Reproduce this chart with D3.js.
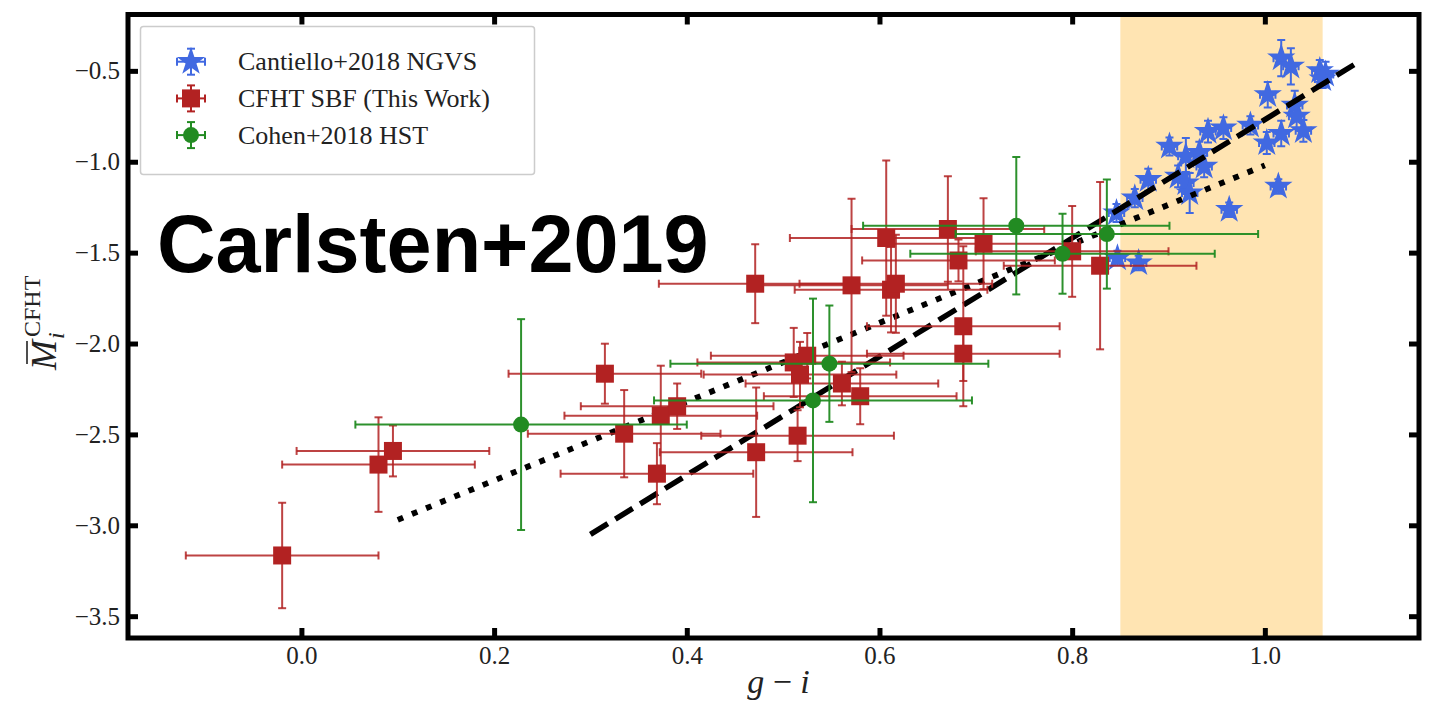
<!DOCTYPE html>
<html>
<head>
<meta charset="utf-8">
<script src="https://cdn.jsdelivr.net/npm/d3@7"></script>
<style>
  body { margin: 0; background: #fff; }
  svg { display: block; }
  .tick text { font-family: "Liberation Serif", "Times New Roman", serif; font-size: 25px; fill: #222; }
</style>
</head>
<body>
<div id="chart"></div>
<script>
// Data: [g-i, M, xerr, yerr]
const ngvs = [
    [1.017, -0.430, 0.008, 0.10],
    [1.027, -0.475, 0.008, 0.10],
    [1.057, -0.500, 0.008, 0.06],
    [1.063, -0.520, 0.008, 0.07],
    [1.060, -0.545, 0.008, 0.05],
    [1.003, -0.632, 0.008, 0.07],
    [1.031, -0.690, 0.008, 0.08],
    [1.033, -0.750, 0.008, 0.07],
    [1.040, -0.830, 0.008, 0.06],
    [1.017, -0.845, 0.008, 0.07],
    [1.002, -0.897, 0.008, 0.06],
    [0.985, -0.800, 0.008, 0.05],
    [0.957, -0.815, 0.008, 0.06],
    [0.941, -0.834, 0.008, 0.06],
    [0.901, -0.916, 0.008, 0.05],
    [0.918, -0.970, 0.008, 0.10],
    [0.932, -0.950, 0.008, 0.06],
    [0.937, -1.026, 0.008, 0.06],
    [0.910, -1.081, 0.008, 0.06],
    [0.918, -1.117, 0.008, 0.06],
    [0.922, -1.172, 0.008, 0.11],
    [0.879, -1.099, 0.008, 0.06],
    [0.865, -1.200, 0.008, 0.05],
    [0.846, -1.282, 0.008, 0.05],
    [1.014, -1.136, 0.008, 0.04],
    [0.963, -1.264, 0.008, 0.04],
    [0.847, -1.530, 0.008, 0.04],
    [0.869, -1.557, 0.008, 0.04]
];

const cfht = [
    [-0.020, -3.166, 0.10, 0.29],
    [0.080, -2.666, 0.10, 0.26],
    [0.095, -2.591, 0.10, 0.14],
    [0.315, -2.166, 0.10, 0.165],
    [0.335, -2.496, 0.10, 0.24],
    [0.373, -2.397, 0.10, 0.275],
    [0.369, -2.716, 0.10, 0.168],
    [0.390, -2.345, 0.10, 0.125],
    [0.471, -1.671, 0.10, 0.217],
    [0.472, -2.598, 0.10, 0.356],
    [0.511, -2.104, 0.10, 0.19],
    [0.525, -2.067, 0.10, 0.125],
    [0.5175, -2.171, 0.10, 0.18],
    [0.515, -2.507, 0.10, 0.14],
    [0.561, -2.220, 0.10, 0.12],
    [0.580, -2.290, 0.10, 0.154],
    [0.571, -1.680, 0.10, 0.477],
    [0.607, -1.420, 0.10, 0.427],
    [0.612, -1.704, 0.10, 0.235],
    [0.617, -1.671, 0.10, 0.27],
    [0.671, -1.370, 0.10, 0.29],
    [0.682, -1.543, 0.10, 0.115],
    [0.708, -1.451, 0.10, 0.25],
    [0.687, -1.905, 0.10, 0.44],
    [0.687, -2.056, 0.10, 0.15],
    [0.800, -1.493, 0.10, 0.25],
    [0.829, -1.572, 0.10, 0.46]
];

const cohen = [
    [0.228, -2.446, 0.172, 0.58],
    [0.531, -2.313, 0.165, 0.56],
    [0.548, -2.111, 0.165, 0.32],
    [0.742, -1.352, 0.159, 0.378],
    [0.790, -1.506, 0.158, 0.22],
    [0.836, -1.398, 0.157, 0.30]
];

const dashedFit = [[0.3, -3.05], [1.1, -0.442]];
const dottedFit = [[0.1, -2.97], [1.0, -1.02]];
const bandRange = [0.85, 1.06];

const xTicks = [0, 0.2, 0.4, 0.6, 0.8, 1.0];
const yTicks = [-3.5, -3.0, -2.5, -2.0, -1.5, -1.0, -0.5];

const legendLabels = ["Cantiello+2018 NGVS", "CFHT SBF (This Work)", "Cohen+2018 HST"];

const width = 1436, height = 701;
const plotLeft = 128, plotRight = 1419, plotTop = 14.5, plotBottom = 638;

const serif = '"Liberation Serif", "Times New Roman", serif';
const blue = "#4169e1", red = "#b22222", green = "#228b22";

const x = d3.scaleLinear().domain([-0.18, 1.16]).range([plotLeft, plotRight]);
const y = d3.scaleLinear().domain([-3.62, -0.19]).range([plotBottom, plotTop]);

const svg = d3.select("#chart").append("svg")
    .attr("width", width)
    .attr("height", height);

svg.append("defs").append("clipPath").attr("id", "plot")
    .append("rect")
    .attr("x", plotLeft).attr("y", plotTop)
    .attr("width", plotRight - plotLeft).attr("height", plotBottom - plotTop);

const plot = svg.append("g").attr("clip-path", "url(#plot)");

// shaded colour range
plot.append("rect")
    .attr("x", x(bandRange[0]))
    .attr("width", x(bandRange[1]) - x(bandRange[0]))
    .attr("y", plotTop)
    .attr("height", plotBottom - plotTop)
    .attr("fill", "#ffa500")
    .attr("fill-opacity", 0.3);

const starPath = d3.symbol().type(d3.symbolStar).size(250)();
const squarePath = d3.symbol().type(d3.symbolSquare).size(18 * 18)();
const circlePath = d3.symbol().type(d3.symbolCircle).size(Math.PI * 8 * 8)();

function errorBars(g, rows, color, cap, lw, opacity) {
    const bars = g.append("g")
        .attr("stroke", color)
        .attr("stroke-width", lw)
        .attr("stroke-opacity", opacity)
        .attr("fill", "none");
    rows.forEach(d => {
        const cx = x(d[0]), cy = y(d[1]);
        const x0 = x(d[0] - d[2]), x1 = x(d[0] + d[2]);
        const y0 = y(d[1] - d[3]), y1 = y(d[1] + d[3]);
        bars.append("line").attr("x1", x0).attr("x2", x1).attr("y1", cy).attr("y2", cy);
        bars.append("line").attr("x1", cx).attr("x2", cx).attr("y1", y0).attr("y2", y1);
        [x0, x1].forEach(v => bars.append("line")
            .attr("x1", v).attr("x2", v).attr("y1", cy - cap).attr("y2", cy + cap));
        [y0, y1].forEach(v => bars.append("line")
            .attr("x1", cx - cap).attr("x2", cx + cap).attr("y1", v).attr("y2", v));
    });
}

function markers(g, rows, path, color) {
    g.append("g").selectAll("path")
        .data(rows)
        .join("path")
        .attr("d", path)
        .attr("transform", d => `translate(${x(d[0])},${y(d[1])})`)
        .attr("fill", color);
}

// NGVS stars sit below the fit lines
errorBars(plot, ngvs, blue, 4, 2, 1);
markers(plot, ngvs, starPath, blue);

const line = d3.line().x(d => x(d[0])).y(d => y(d[1]));

plot.append("path")
    .attr("d", line(dottedFit))
    .attr("stroke", "#000")
    .attr("stroke-width", 5.8)
    .attr("stroke-dasharray", "5.8,9.5")
    .attr("fill", "none");

plot.append("path")
    .attr("d", line(dashedFit))
    .attr("stroke", "#000")
    .attr("stroke-width", 5.5)
    .attr("stroke-dasharray", "20.4,8.8")
    .attr("fill", "none");

errorBars(plot, cfht, red, 4, 2, 0.85);
markers(plot, cfht, squarePath, red);

errorBars(plot, cohen, green, 4, 2, 0.95);
markers(plot, cohen, circlePath, green);

// axes with inward ticks on all four sides
const fmt = d3.format(".1f");
function styleAxis(g) {
    g.select(".domain").remove();
    g.selectAll(".tick line").attr("stroke", "#000").attr("stroke-width", 5);
}

svg.append("g")
    .attr("transform", `translate(0,${plotBottom})`)
    .call(d3.axisBottom(x).tickValues(xTicks).tickFormat(fmt).tickSizeInner(-10).tickSizeOuter(0).tickPadding(8))
    .call(styleAxis);

svg.append("g")
    .attr("transform", `translate(0,${plotTop})`)
    .call(d3.axisTop(x).tickValues(xTicks).tickFormat("").tickSizeInner(-10).tickSizeOuter(0))
    .call(styleAxis);

svg.append("g")
    .attr("transform", `translate(${plotLeft},0)`)
    .call(d3.axisLeft(y).tickValues(yTicks).tickFormat(fmt).tickSizeInner(-10).tickSizeOuter(0).tickPadding(8))
    .call(styleAxis);

svg.append("g")
    .attr("transform", `translate(${plotRight},0)`)
    .call(d3.axisRight(y).tickValues(yTicks).tickFormat("").tickSizeInner(-10).tickSizeOuter(0))
    .call(styleAxis);

svg.selectAll(".tick text").attr("font-family", null).attr("font-size", null);

svg.append("rect")
    .attr("x", plotLeft).attr("y", plotTop)
    .attr("width", plotRight - plotLeft).attr("height", plotBottom - plotTop)
    .attr("fill", "none")
    .attr("stroke", "#000")
    .attr("stroke-width", 5);

// axis labels
svg.append("text")
    .attr("x", (plotLeft + plotRight) / 2 + 5)
    .attr("y", 693)
    .attr("text-anchor", "middle")
    .attr("font-family", serif)
    .attr("font-size", 34)
    .attr("fill", "#222")
    .html('<tspan font-style="italic">g</tspan> − <tspan font-style="italic">i</tspan>');

const ylab = svg.append("g").attr("transform", "translate(56,318) rotate(-90)");
const ytext = ylab.append("text")
    .attr("font-family", serif)
    .attr("fill", "#222");
ytext.append("tspan").attr("x", -52).attr("font-size", 36).attr("font-style", "italic").text("M");
ytext.append("tspan").attr("x", -21).attr("dy", 8).attr("font-size", 24).attr("font-style", "italic").text("i");
ytext.append("tspan").attr("x", -19).attr("dy", -24).attr("font-size", 24).text("CFHT");
ylab.append("line")
    .attr("x1", -46).attr("x2", -23)
    .attr("y1", -29).attr("y2", -29)
    .attr("stroke", "#222").attr("stroke-width", 1.6);

// big label
svg.append("text")
    .attr("x", 157)
    .attr("y", 272)
    .attr("font-family", '"Liberation Sans", Arial, sans-serif')
    .attr("font-weight", "bold")
    .attr("font-size", 81)
    .attr("fill", "#000")
    .text("Carlsten+2019");

// legend
const legend = svg.append("g");
legend.append("rect")
    .attr("x", 140.5).attr("y", 26.5)
    .attr("width", 394).attr("height", 148)
    .attr("rx", 3)
    .attr("fill", "#fff")
    .attr("fill-opacity", 0.85)
    .attr("stroke", "#cccccc")
    .attr("stroke-width", 1.5);

const legendItems = [
    { label: legendLabels[0], color: blue, path: starPath },
    { label: legendLabels[1], color: red, path: squarePath },
    { label: legendLabels[2], color: green, path: circlePath }
];
legendItems.forEach((item, i) => {
    const cy = 61.7 + i * 36.7;
    const g = legend.append("g")
        .attr("transform", `translate(191,${cy})`);
    const bars = g.append("g").attr("stroke", item.color).attr("stroke-width", 2);
    bars.append("line").attr("x1", -14).attr("x2", 14).attr("y1", 0).attr("y2", 0);
    bars.append("line").attr("x1", 0).attr("x2", 0).attr("y1", -13).attr("y2", 13);
    [-14, 14].forEach(v => bars.append("line").attr("x1", v).attr("x2", v).attr("y1", -4).attr("y2", 4));
    [-13, 13].forEach(v => bars.append("line").attr("x1", -4).attr("x2", 4).attr("y1", v).attr("y2", v));
    g.append("path").attr("d", item.path).attr("fill", item.color);
    legend.append("text")
        .attr("x", 238)
        .attr("y", cy + 8.5)
        .attr("font-family", serif)
        .attr("font-size", 26)
        .attr("fill", "#222")
        .text(item.label);
});
</script>
</body>
</html>
